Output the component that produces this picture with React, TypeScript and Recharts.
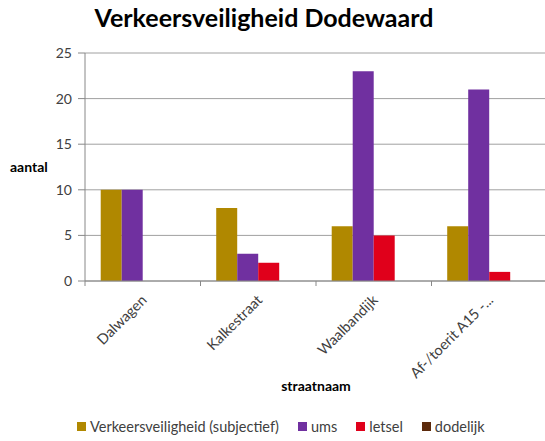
import React from "react";
import { BarChart, Bar, XAxis, YAxis, CartesianGrid, Legend, Label } from "recharts";

const categories = ["Dalwagen", "Kalkestraat", "Waalbandijk", "Af-/toerit A15 -..."];
const verkeersveiligheid = [10, 8, 6, 6];
const ums = [10, 3, 23, 21];
const letsel = [0, 2, 5, 1];
const dodelijk = [0, 0, 0, 0];
const yTicks = [0, 5, 10, 15, 20, 25];

const series = [
  { key: "v", name: "Verkeersveiligheid (subjectief)", color: "#B08800", values: verkeersveiligheid },
  { key: "u", name: "ums", color: "#7030A0", values: ums },
  { key: "l", name: "letsel", color: "#E0001B", values: letsel },
  { key: "d", name: "dodelijk", color: "#5C2A0C", values: dodelijk },
];

const data = categories.map((c, i) => {
  const row: Record<string, any> = { name: c };
  series.forEach((s) => (row[s.key] = s.values[i]));
  return row;
});

const FONT = "Lato, 'Open Sans', sans-serif";
const CHART_W = 547;
const LEFT = 85;
const BAND = (CHART_W - LEFT) / categories.length;

const XTick = (props: any) => {
  const { x, y, payload } = props;
  const ax = x + 5;
  const ay = y + 12;
  return (
    <g>
      <line x1={x - BAND / 2} x2={x - BAND / 2} y1={y - 8} y2={y - 3} stroke="#888" />
      <text
        x={ax}
        y={ay}
        textAnchor="end"
        transform={`rotate(-45, ${ax}, ${ay})`}
        fontSize={14.5}
        fill="#404040"
        fontFamily={FONT}
      >
        {payload.value}
      </text>
    </g>
  );
};

const LegendContent = () => (
  <div style={{ display: "flex", alignItems: "center", fontFamily: FONT, fontSize: 14.5, color: "#404040" }}>
    {series.map((s) => (
      <div key={s.key} style={{ display: "flex", alignItems: "center", marginRight: 19 }}>
        <span style={{ width: 9, height: 9, background: s.color, display: "inline-block", marginRight: 4 }} />
        <span>{s.name}</span>
      </div>
    ))}
  </div>
);

export default function App() {
  return (
    <div style={{ position: "absolute", left: 0, top: 0, width: 545, height: 441, overflow: "hidden", background: "#fff" }}>
      <div
        style={{
          position: "absolute",
          top: 2,
          left: 0,
          width: 528,
          textAlign: "center",
          fontFamily: FONT,
          fontWeight: "bold",
          fontSize: 25,
          color: "#000",
        }}
      >
        Verkeersveiligheid Dodewaard
      </div>
      <BarChart
        width={CHART_W}
        height={441}
        data={data}
        margin={{ top: 53, right: 0, left: 8, bottom: 25 }}
        barCategoryGap="13.6%"
        barGap={0}
      >
        <CartesianGrid vertical={false} stroke="#A0A0A0" />
        <XAxis
          dataKey="name"
          height={115}
          interval={0}
          tick={<XTick />}
          tickLine={false}
          axisLine={{ stroke: "#888" }}
        >
          <Label
            value="straatnaam"
            position="insideBottom"
            offset={5}
            style={{ fontFamily: FONT, fontWeight: "bold", fontSize: 14, fill: "#000" }}
          />
        </XAxis>
        <YAxis
          width={77}
          domain={[0, 25]}
          ticks={yTicks}
          interval={0}
          tickSize={7}
          tickMargin={6}
          tickLine={{ stroke: "#888" }}
          axisLine={{ stroke: "#888" }}
          tick={{ fontFamily: FONT, fontSize: 14, fill: "#404040" }}
        >
          <Label
            value="aantal"
            position="insideLeft"
            offset={2}
            style={{ fontFamily: FONT, fontWeight: "bold", fontSize: 14, fill: "#000", textAnchor: "start" }}
          />
        </YAxis>
        {series.map((s) => (
          <Bar key={s.key} dataKey={s.key} name={s.name} fill={s.color} isAnimationActive={false} />
        ))}
        <Legend
          height={20}
          verticalAlign="bottom"
          content={<LegendContent />}
          wrapperStyle={{ top: 418, left: 77, width: 468 }}
        />
      </BarChart>
    </div>
  );
}
